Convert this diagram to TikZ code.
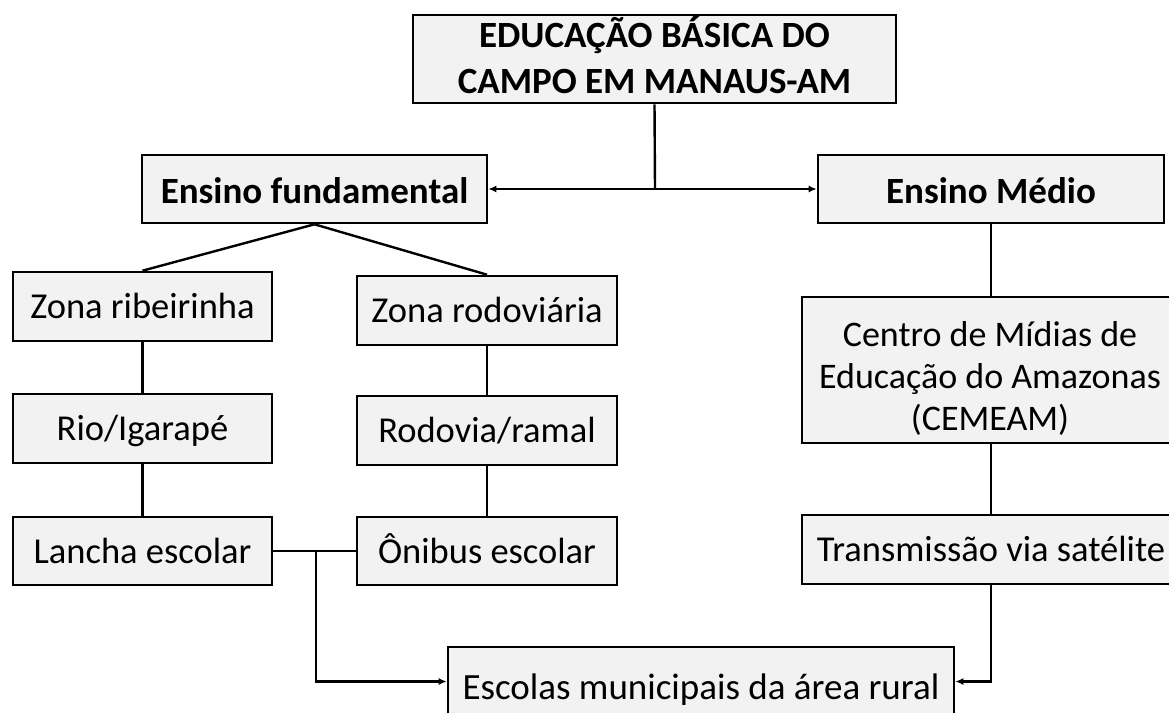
\documentclass[tikz,border=0pt]{standalone}
\usepackage{fontspec}
\setmainfont{Carlito}
\usetikzlibrary{arrows.meta}
\definecolor{boxfill}{HTML}{F2F2F2}
\tikzset{
  box/.style={draw=black, fill=boxfill, line width=2.6pt, inner sep=0pt, align=center,
    font=\fontsize{36.5pt}{42pt}\selectfont, text height=30pt, text depth=6pt},
  boldbox/.style={box, font=\fontsize{37pt}{46pt}\selectfont\bfseries, text height=32pt, text depth=4pt},
  link/.style={line width=2.4pt},
  arr/.style={link, -{Latex[length=8pt,width=7pt]}},
  darr/.style={link, {Latex[length=8pt,width=7pt]}-{Latex[length=8pt,width=7pt]}}
}
\begin{document}
\begin{tikzpicture}[x=1pt,y=-1pt]
\useasboundingbox (0,0) rectangle (1169,712);
\clip (0,0) rectangle (1169,712);
\fill[white] (0,0) rectangle (1169,712);

\node[boldbox, minimum width=483pt, minimum height=88pt, text height=72pt, text depth=4pt] (top) at (654.5,59) {EDUCAÇÃO BÁSICA DO\\CAMPO EM MANAUS-AM};
\node[boldbox, minimum width=345pt, minimum height=68pt] (ef) at (314.5,189) {Ensino fundamental};
\node[boldbox, minimum width=346pt, minimum height=68pt] (em) at (991,189) {Ensino Médio};

\node[box, minimum width=259pt, minimum height=69pt] (zrib) at (142.5,306.5) {Zona ribeirinha};
\node[box, minimum width=260pt, minimum height=69pt] (zrod) at (487,310.5) {Zona rodoviária};
\node[box, minimum width=259pt, minimum height=69pt] (rio) at (142.5,428.5) {Rio/Igarapé};
\node[box, minimum width=260pt, minimum height=69pt] (rod) at (487,430.5) {Rodovia/ramal};
\node[box, minimum width=259pt, minimum height=68pt] (lancha) at (142.5,551) {Lancha escolar};
\node[box, minimum width=260pt, minimum height=68pt] (onibus) at (487,551) {Ônibus escolar};

\node[box, minimum width=376pt, minimum height=146pt, font=\fontsize{36pt}{42pt}\selectfont, text height=124pt, text depth=4pt] (centro) at (990,370) {Centro de Mídias de\\Educação do Amazonas\\(CEMEAM)};
\node[box, minimum width=378pt, minimum height=69pt] (trans) at (991,549.5) {Transmissão via satélite};
\node[box, minimum width=506pt, minimum height=69pt, font=\fontsize{37pt}{42pt}\selectfont, text height=38pt, text depth=3pt] (esc) at (701,681.5) {Escolas municipais da área rural};

\coordinate (jtop) at (655,189);
\draw[link] (top.south) -- (jtop);
\draw[darr] (ef.east) -- (em.west);

\draw[link] (ef.south) -- (zrib.north);
\draw[link] (ef.south) -- (zrod.north);
\draw[link] (zrib) -- (rio);
\draw[link] (rio) -- (lancha);
\draw[link] (zrod) -- (rod);
\draw[link] (rod) -- (onibus);

\draw[link] (lancha.east) -- (onibus.west);
\coordinate (jbot) at (316,551);
\draw[arr] (jbot) |- (esc.west);

\draw[link] (em) -- (em |- centro.north);
\draw[link] (centro.south -| trans) -- (trans);
\draw[arr] (trans.south) |- (esc.east);
\end{tikzpicture}
\end{document}
